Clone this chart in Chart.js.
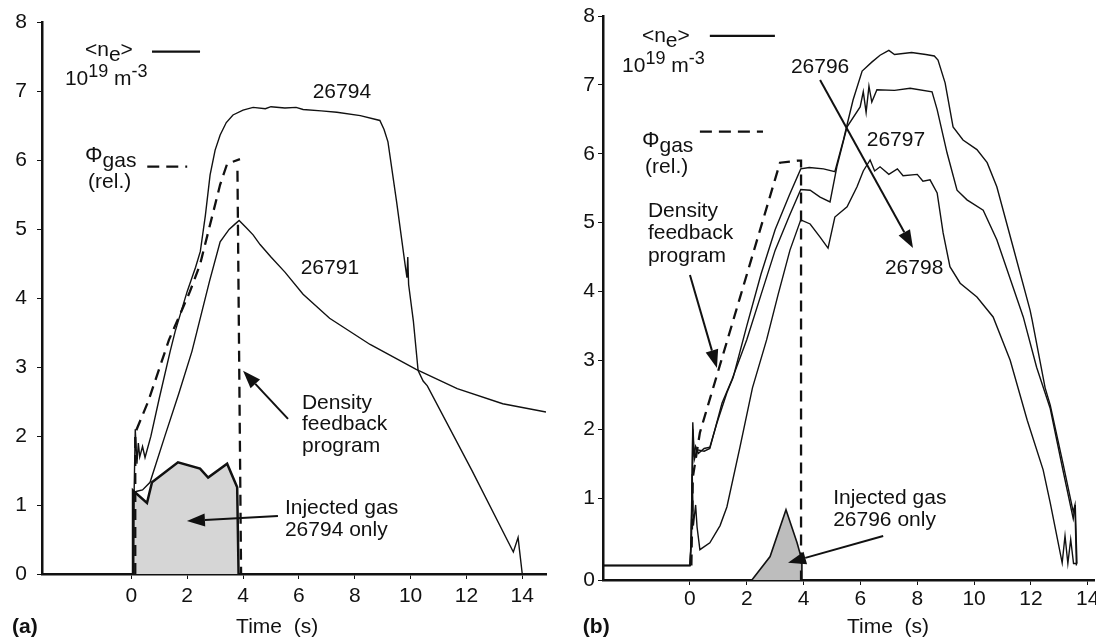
<!DOCTYPE html>
<html>
<head>
<meta charset="utf-8">
<script src="https://cdn.jsdelivr.net/npm/chart.js@4.4.1/dist/chart.umd.min.js"></script>
<style>
  html, body { margin: 0; padding: 0; background: #fff; overflow: hidden; }
  .panel { position: absolute; top: 0; height: 639px; }
  #wa { left: 0; width: 548px; }
  #wb { left: 548px; width: 560px; }
</style>
</head>
<body>
<div class="panel" id="wa"><canvas id="ca"></canvas></div>
<div class="panel" id="wb"><canvas id="cb"></canvas></div>
<script>
// ── data: [time (s), <n_e> (1e19 m^-3)] ─────────────────────────────────
const xTicks = [0, 2, 4, 6, 8, 10, 12, 14];
const yTicksA = [0, 1, 2, 3, 4, 5, 6, 7, 8];
const yTicksB = [1, 2, 3, 4, 5, 6, 7, 8];   // "0" sits on the offset axis line

// (a)
const ne26794 = [[0.06,0],[0.1,1.2],[0.14,2.1],[0.2,1.6],[0.25,1.9],[0.3,1.7],[0.4,1.85],[0.49,1.69],[0.7,2.0],
  [1.0,2.55],[1.39,3.23],[1.57,3.52],[2.0,4.1],[2.3,4.45],[2.47,4.68],[2.65,5.2],[2.82,5.79],[3.0,6.15],[3.18,6.37],
  [3.4,6.55],[3.64,6.66],[4.0,6.73],[4.36,6.77],[4.8,6.75],[5.0,6.78],[5.5,6.76],[5.9,6.77],[6.15,6.74],[6.8,6.72],
  [7.36,6.70],[8.2,6.65],[8.9,6.58],[9.05,6.45],[9.19,6.27],[9.5,5.4],[9.8,4.5],[9.87,4.3],[9.9,4.6],[9.93,4.2],
  [10.1,3.67],[10.27,2.95],[10.45,2.8],[10.6,2.73],[12.2,1.5],[13.68,0.32],[13.85,0.53],[13.9,0.35],[14.0,0]];
const ne26791 = [[0.06,0],[0.08,1.18],[0.2,1.2],[0.4,1.22],[0.67,1.33],[1.2,2.0],[1.7,2.62],[2.17,3.23],[2.35,3.52],
  [2.8,4.25],[3.18,4.82],[3.5,5.0],[3.72,5.08],[3.86,5.13],[4.1,5.03],[4.36,4.92],[4.61,4.78],[5.0,4.6],[5.5,4.38],
  [6.15,4.06],[7.1,3.71],[8.55,3.33],[10.2,2.97],[11.67,2.69],[13.3,2.47],[14.85,2.35]];
const progA = [[0.14,0],[0.14,2.05],[0.6,2.5],[1.35,3.4],[2.1,4.1],[2.46,4.49],[2.82,5.07],[3.18,5.65],[3.43,5.95],
  [3.89,6.02],[3.85,null],[3.8,5.85],[3.93,0]];
const gasA = [[0.06,0],[0.06,1.21],[0.56,1.03],[0.74,1.33],[1.67,1.62],[2.46,1.53],[2.75,1.4],[3.43,1.6],[3.79,1.26],[3.84,0]];

// (b)
const ne26796 = [[-3.06,0.02],[0,0.02],[0.05,0.4],[0.1,2.1],[0.15,1.6],[0.2,1.75],[0.3,1.65],[0.5,1.72],[0.7,1.74],
  [0.95,2.09],[1.3,2.53],[1.52,2.75],[2.0,3.5],[2.5,4.25],[3.0,4.9],[3.5,5.4],[3.9,5.78],[4.2,5.8],[4.7,5.78],[5.1,5.74],
  [5.4,6.2],[5.74,6.78],[6.06,7.2],[6.4,7.33],[6.69,7.43],[7.0,7.5],[7.2,7.44],[7.8,7.47],[8.3,7.44],[8.6,7.42],
  [8.73,7.36],[8.98,7.03],[9.26,6.39],[9.61,6.2],[10.1,6.06],[10.46,5.87],[10.8,5.52],[11.37,4.65],[11.97,3.73],
  [12.04,3.59],[12.5,2.6],[12.68,2.35],[13.13,1.5],[13.49,0.8],[13.55,0.9],[13.6,0.02]];
const ne26797 = [[-3.06,0.02],[0,0.02],[0.05,0.4],[0.1,2.0],[0.15,1.55],[0.25,1.7],[0.5,1.68],[0.7,1.72],[1.13,2.38],
  [1.48,2.72],[2.0,3.3],[2.5,3.95],[3.0,4.6],[3.5,5.1],[3.9,5.48],[4.23,5.47],[4.58,5.37],[4.93,5.3],[5.17,5.81],
  [5.53,6.39],[5.99,6.68],[6.1,6.9],[6.2,6.6],[6.3,6.98],[6.4,6.75],[6.58,6.93],[7.2,6.92],[7.75,6.95],[8.52,6.9],
  [8.7,6.64],[9.05,6.01],[9.4,5.47],[9.75,5.33],[10.32,5.18],[10.8,4.75],[11.73,3.63],[12.2,2.9],[12.68,2.3],
  [13.13,1.4],[13.49,0.7],[13.56,0.9],[13.62,0.05]];
const ne26798 = [[-3.06,0.02],[0,0.02],[0.03,0.3],[0.08,1.35],[0.12,0.6],[0.2,0.9],[0.25,0.58],[0.35,0.25],[0.7,0.35],
  [1.06,0.6],[1.3,0.87],[1.76,1.74],[2.2,2.6],[2.7,3.3],[3.1,3.95],[3.52,4.6],[3.9,5.04],[4.23,4.98],[4.58,4.79],
  [4.86,4.63],[5.1,5.08],[5.53,5.23],[5.88,5.52],[6.1,5.75],[6.34,5.91],[6.5,5.75],[6.69,5.81],[7.0,5.7],[7.3,5.78],
  [7.5,5.68],[8.0,5.7],[8.2,5.6],[8.45,5.62],[8.7,5.43],[8.91,4.85],[9.15,4.36],[9.51,4.12],[10.1,3.92],[10.67,3.63],
  [11.27,3.0],[11.87,2.13],[12.43,1.41],[12.68,0.93],[13.1,0.06],[13.2,0.45],[13.3,0.05],[13.4,0.4],[13.5,0.05],[13.63,0.05]];
const progB = [[0.05,0.02],[0.1,1.3],[0.35,1.95],[3.17,5.87],[3.8,5.9],[3.91,5.9],[3.91,-0.19]];
const gasB = [[2.18,-0.19],[2.82,0.15],[3.38,0.83],[3.77,0.35],[3.94,0.1],[3.94,-0.19]];

// ── helpers ───────────────────────────────────────────────────────────
const FONT = '"Liberation Sans", Arial, Helvetica, sans-serif';
const INK = '#111';
const pts = arr => arr.map(([x, y]) => ({ x, y }));
const trace = (label, data, bw = 1.4) => ({ label, data: pts(data), borderColor: INK, borderWidth: bw, pointRadius: 0, fill: false, tension: 0 });
const dashed = (label, data) => ({ label, data: pts(data), borderColor: INK, borderWidth: 2.3, borderDash: [11, 7], pointRadius: 0, fill: false, tension: 0, spanGaps: false });
const gas = (label, data, fill, bw, bg) => ({ label, data: pts(data), borderColor: INK, borderWidth: bw, backgroundColor: bg, pointRadius: 0, fill, tension: 0 });

const NE = [['<n', 21, 0], ['e', 21, 5], ['>', 21, 0]];
const UNIT = [['10', 21, 0], ['19', 18, -8], [' m', 21, 0], ['-3', 18, -8]];
const PHI = [['\u03A6', 22, 0], ['gas', 21, 5]];

function richText(ctx, x, y, parts) {
  let cx = x;
  parts.forEach(([s, size, dy]) => {
    ctx.font = size + 'px ' + FONT;
    ctx.fillText(s, cx, y + dy);
    cx += ctx.measureText(s).width;
  });
}

function arrow(ctx, x0, y0, x1, y1) {
  const a = Math.atan2(y1 - y0, x1 - x0), L = 18, W = 6.5;
  const bx = x1 - L * Math.cos(a), by = y1 - L * Math.sin(a);
  ctx.lineWidth = 2;
  ctx.beginPath(); ctx.moveTo(x0, y0); ctx.lineTo(bx, by); ctx.stroke();
  ctx.beginPath();
  ctx.moveTo(x1, y1);
  ctx.lineTo(bx + W * Math.sin(a), by - W * Math.cos(a));
  ctx.lineTo(bx - W * Math.sin(a), by + W * Math.cos(a));
  ctx.closePath(); ctx.fill();
}

// draws the labels, key lines and arrows given in data coordinates
const notesPlugin = {
  id: 'notes',
  afterDraw(chart, args, o) {
    const ctx = chart.ctx, X = t => chart.scales.x.getPixelForValue(t), Y = v => chart.scales.y.getPixelForValue(v);
    ctx.save();
    ctx.fillStyle = INK; ctx.strokeStyle = INK;
    (o.keys || []).forEach(k => {
      ctx.lineWidth = 2.2; ctx.setLineDash(k.dash || []);
      ctx.beginPath(); ctx.moveTo(X(k.from[0]), Y(k.from[1])); ctx.lineTo(X(k.to[0]), Y(k.to[1])); ctx.stroke();
    });
    ctx.setLineDash([]);
    (o.arrows || []).forEach(a => arrow(ctx, X(a[0][0]), Y(a[0][1]), X(a[1][0]), Y(a[1][1])));
    ctx.textBaseline = 'alphabetic'; ctx.textAlign = 'left';
    (o.rich || []).forEach(r => richText(ctx, X(r.at[0]), Y(r.at[1]), r.parts));
    (o.texts || []).forEach(t => {
      ctx.font = (t.bold ? 'bold ' : '') + '21px ' + FONT;
      ctx.textAlign = t.align || 'left'; ctx.textBaseline = 'middle';
      t.lines.forEach((s, i) => ctx.fillText(s, X(t.at[0]), Y(t.at[1]) + i * (t.lh || 22)));
    });
    ctx.restore();
  }
};

function makeChart(id, datasets, cfg) {
  return new Chart(document.getElementById(id), {
    type: 'line',
    data: { datasets },
    plugins: [notesPlugin],
    options: {
      responsive: true, maintainAspectRatio: false, animation: false,
      layout: { padding: cfg.pad },
      plugins: { legend: { display: false }, tooltip: { enabled: false }, notes: cfg.notes },
      scales: {
        x: {
          type: 'linear', min: cfg.xMin, max: cfg.xMax,
          afterBuildTicks: s => { s.ticks = xTicks.map(value => ({ value })); },
          afterFit: s => { s.height = cfg.xH; },
          ticks: { color: INK, font: { family: FONT, size: 21 }, padding: cfg.xPad, maxRotation: 0, autoSkip: false },
          grid: { drawOnChartArea: false, tickLength: 5, color: INK },
          border: { color: INK, width: 2.5 }
        },
        y: {
          type: 'linear', min: cfg.yMin, max: 8,
          afterBuildTicks: s => { s.ticks = cfg.yTicks.map(value => ({ value })); },
          afterFit: s => { s.width = cfg.yW; },
          ticks: { color: INK, font: { family: FONT, size: 21 }, padding: cfg.yPad, autoSkip: false,
                   callback: v => v < 0 ? '0' : String(v) },
          grid: { drawOnChartArea: false, tickLength: 5, color: INK },
          border: { color: INK, width: 2.5 }
        }
      }
    }
  });
}

makeChart('ca', [
  trace('26794', ne26794),
  trace('26791', ne26791),
  dashed('Density feedback program', progA),
  gas('Injected gas 26794 only', gasA, 'origin', 2.5, '#d6d6d6')
], {
  pad: { left: 0, top: 20, right: 2, bottom: 0 }, xMin: -3.2, xMax: 14.85, yMin: 0, yTicks: yTicksA,
  xH: 65, yW: 42, xPad: 5, yPad: 10,
  notes: {
    keys: [{ from: [0.74, 7.58], to: [2.46, 7.58] }, { from: [0.57, 5.91], to: [2.0, 5.91], dash: [12, 7] }],
    arrows: [[[5.61, 2.25], [4.0, 2.95]], [[5.25, 0.84], [1.99, 0.77]]],
    rich: [{ at: [-1.66, 7.52], parts: NE }, { at: [-2.38, 7.09], parts: UNIT }, { at: [-1.66, 5.98], parts: PHI }],
    texts: [
      { at: [-1.55, 5.69], lines: ['(rel.)'] },
      { at: [7.54, 6.99], lines: ['26794'], align: 'center' },
      { at: [7.11, 4.43], lines: ['26791'], align: 'center' },
      { at: [6.11, 2.48], lines: ['Density', 'feedback', 'program'], lh: 21.5 },
      { at: [5.5, 0.95], lines: ['Injected gas', '26794 only'], lh: 22 },
      { at: [5.22, -0.77], lines: ['Time  (s)'], align: 'center' },
      { at: [-4.27, -0.77], lines: ['(a)'], bold: true }
    ]
  }
});

makeChart('cb', [
  trace('26796', ne26796),
  trace('26797', ne26797),
  trace('26798', ne26798),
  dashed('Density feedback program', progB),
  gas('Injected gas 26796 only', gasB, 'start', 1.6, '#bdbdbd')
], {
  pad: { left: 0, top: 16, right: 14, bottom: 0 }, xMin: -3.06, xMax: 14.22, yMin: -0.19, yTicks: [-0.19].concat(yTicksB),
  xH: 59, yW: 55, xPad: 2, yPad: 3,
  notes: {
    keys: [{ from: [0.7, 7.71], to: [2.99, 7.71] }, { from: [0.35, 6.32], to: [2.57, 6.32], dash: [12, 7] }],
    arrows: [[[0, 4.24], [0.95, 2.89]], [[4.58, 7.07], [7.85, 4.63]], [[6.8, 0.45], [3.45, 0.06]]],
    rich: [{ at: [-1.69, 7.62], parts: NE }, { at: [-2.39, 7.19], parts: UNIT }, { at: [-1.69, 6.1], parts: PHI }],
    texts: [
      { at: [-1.58, 5.8], lines: ['(rel.)'] },
      { at: [-1.48, 5.17], lines: ['Density', 'feedback', 'program'], lh: 22.5 },
      { at: [4.58, 7.25], lines: ['26796'], align: 'center' },
      { at: [7.25, 6.2], lines: ['26797'], align: 'center' },
      { at: [7.89, 4.34], lines: ['26798'], align: 'center' },
      { at: [5.04, 1.0], lines: ['Injected gas', '26796 only'], lh: 22 },
      { at: [6.97, -0.87], lines: ['Time  (s)'], align: 'center' },
      { at: [-3.77, -0.87], lines: ['(b)'], bold: true }
    ]
  }
});
</script>
</body>
</html>
